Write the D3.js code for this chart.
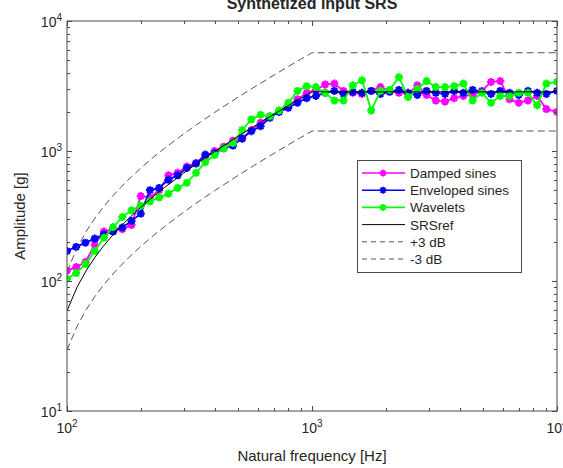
<!DOCTYPE html>
<html><head><meta charset="utf-8">
<script src="https://cdn.jsdelivr.net/npm/d3@7"></script>
<style>body{margin:0;background:#fff;} svg{display:block;} text{font-family:"Liberation Sans",Arial,sans-serif;fill:#262626;}</style>
</head><body>
<svg id="c" width="563" height="468"></svg>
<script>
const freq = [100,109.05,118.92,129.68,141.42,154.22,168.18,183.40,200,218.10,237.84,259.37,282.84,308.44,336.36,366.80,400,436.21,475.68,518.74,565.69,616.88,672.72,733.59,800,872.41,951.37,1037.48,1131.37,1233.76,1345.43,1467.19,1600,1744.83,1902.73,2074.96,2262.74,2467.52,2690.87,2934.38,3200,3489.65,3805.45,4149.91,4525.48,4935.05,5381.73,5868.76,6400,6979.30,7610.90,8299.82,9050.97,10000];
const damped = [120,128,140,190,240,250,250,270,450,440,500,650,680,760,810,900,1000,1080,1200,1250,1450,1650,1850,2000,2250,2500,2800,2950,3250,3300,2900,2800,2750,2900,3100,2900,2800,2750,3200,2700,2450,2400,2550,2650,2700,2900,3400,3450,2500,2350,2450,2650,2100,2000];
const enveloped = [170,183,197,212,228,240,258,290,330,500,520,600,650,740,800,940,960,1050,1100,1250,1420,1550,1800,2000,2150,2350,2550,2650,2800,2900,2750,2850,2800,2900,2750,2850,2950,2800,2700,2900,2800,2750,2900,2800,2950,2850,2750,2900,2800,2700,2900,2800,2750,2900];
const wavelets = [104,115,135,170,215,260,310,350,380,410,440,470,520,570,680,820,930,1050,1150,1450,1750,1900,1850,2050,2350,2900,3150,3100,2800,2450,2450,3200,3500,2050,2900,2950,3700,2600,3000,3450,3100,3100,3150,3300,2450,2800,2350,2650,2650,2800,2800,2250,3300,3400];
const refFreq = [100,110,120,130,140,150,160,175,200,225,250,300,350,400,500,600,700,800,900,1000,10000];
const srsRef = [59,90,121,152,183,214,245,292,369,447,524,679,834,989,1300,1610,1920,2230,2540,2850,2850];
const plus3 = [118,180,242,304,366,428,490,584,738,894,1048,1358,1668,1978,2600,3220,3840,4460,5080,5700,5700];
const minus3 = [29.5,45,60.5,76,91.5,107,122.5,146,184.5,223.5,262,339.5,417,494.5,650,805,960,1115,1270,1425,1425];
const xTicks = [100,1000,10000];
const yTicks = [10,100,1000,10000];
const legendLabels = ["Damped sines","Enveloped sines","Wavelets","SRSref","+3 dB","-3 dB"];

const L=67,R=557,T=21,B=411;
const svg=d3.select("#c");
const x=d3.scaleLog().domain([100,10000]).range([L,R]);
const y=d3.scaleLog().domain([10,10000]).range([B,T]);
const axCol="#4a4a4a";

svg.append("defs").append("clipPath").attr("id","clip").append("rect").attr("x",L).attr("y",T).attr("width",R-L).attr("height",B-T);
const plot=svg.append("g").attr("clip-path","url(#clip)");

const line=(xs,ys)=>d3.line().x((d,i)=>x(xs[i])).y(d=>y(d))(ys);
const star=r=>{const a=r*0.7071;return `M${-r},0L${r},0M0,${-r}L0,${r}M${-a},${-a}L${a},${a}M${-a},${a}L${a},${-a}`;};

const series=[{v:damped,c:"#ff00ff"},{v:enveloped,c:"#0000ff"},{v:wavelets,c:"#00ff00"}];
series.forEach(s=>{
  plot.append("path").attr("d",line(freq,s.v)).attr("fill","none").attr("stroke",s.c).attr("stroke-width",1.8);
  plot.selectAll(null).data(s.v).enter().append("path")
    .attr("transform",(d,i)=>`translate(${x(freq[i])},${y(d)})`)
    .attr("d",star(4)).attr("stroke",s.c).attr("stroke-width",2.2).attr("fill","none");
});
plot.append("path").attr("d",line(refFreq,srsRef)).attr("fill","none").attr("stroke","#000").attr("stroke-width",1);
[plus3,minus3].forEach(v=>plot.append("path").attr("d",line(refFreq,v)).attr("fill","none").attr("stroke","#555").attr("stroke-width",1).attr("stroke-dasharray","7,4"));

// axes box and ticks
const g=svg.append("g");
g.append("rect").attr("x",L).attr("y",T).attr("width",R-L).attr("height",B-T).attr("fill","none").attr("stroke",axCol).attr("stroke-width",1);
const xs=x.ticks(), ys=y.ticks();
xs.forEach(v=>{const major=xTicks.includes(v);const len=major?5:3;const px=Math.round(x(v))+0.5;
  g.append("line").attr("x1",px).attr("x2",px).attr("y1",B).attr("y2",B-len).attr("stroke",axCol);
  g.append("line").attr("x1",px).attr("x2",px).attr("y1",T).attr("y2",T+len).attr("stroke",axCol);});
ys.forEach(v=>{const major=yTicks.includes(v);const len=major?5:3;const py=Math.round(y(v))+0.5;
  g.append("line").attr("x1",L).attr("x2",L+len).attr("y1",py).attr("y2",py).attr("stroke",axCol);
  g.append("line").attr("x1",R).attr("x2",R-len).attr("y1",py).attr("y2",py).attr("stroke",axCol);});

xTicks.forEach(v=>{const t=g.append("text").attr("x",x(v)).attr("y",433).attr("text-anchor","middle").attr("font-size",14);
  t.append("tspan").text("10"); t.append("tspan").attr("dy",-6).attr("font-size",10).text(Math.round(Math.log10(v)));});
yTicks.forEach(v=>{const t=g.append("text").attr("x",62).attr("y",y(v)+6).attr("text-anchor","end").attr("font-size",14);
  t.append("tspan").text("10"); t.append("tspan").attr("dy",-6).attr("font-size",10).text(Math.round(Math.log10(v)));});

svg.append("text").attr("x",312).attr("y",461).attr("text-anchor","middle").attr("font-size",15).text("Natural frequency [Hz]");
svg.append("text").attr("transform","translate(25,216) rotate(-90)").attr("text-anchor","middle").attr("font-size",15).text("Amplitude [g]");
svg.append("text").attr("x",312).attr("y",9).attr("text-anchor","middle").attr("font-size",16).attr("font-weight","bold").text("Synthetized input SRS");

// legend
const lg=svg.append("g");
lg.append("rect").attr("x",357.5).attr("y",160.5).attr("width",164).attr("height",112).attr("fill","#fff").attr("stroke",axCol).attr("stroke-width",1);
const styles=[{c:"#ff00ff",m:true},{c:"#0000ff",m:true},{c:"#00ff00",m:true},{c:"#000",m:false},{c:"#555",d:true},{c:"#555",d:true}];
legendLabels.forEach((lab,i)=>{const yy=173+i*17.2;const st=styles[i];
  const ln=lg.append("line").attr("x1",362).attr("x2",405).attr("y1",yy).attr("y2",yy).attr("stroke",st.c).attr("stroke-width",st.m?1.6:1);
  if(st.d) ln.attr("stroke-dasharray","5,4");
  if(st.m) lg.append("path").attr("transform",`translate(383,${yy})`).attr("d",star(3.5)).attr("stroke",st.c).attr("stroke-width",1.8);
  lg.append("text").attr("x",410).attr("y",yy+5).attr("font-size",13.5).text(lab);
});
</script>
</body></html>
